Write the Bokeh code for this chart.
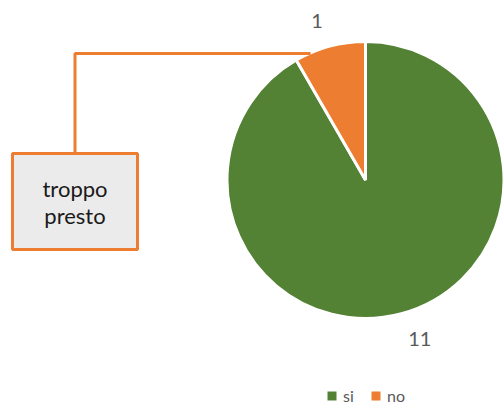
import numpy as np
from bokeh.plotting import figure
from bokeh.models import Range1d, ColumnDataSource, Legend, LegendItem
from bokeh.core.properties import value
from bokeh.embed import file_html
from bokeh.resources import INLINE

categories = ["si", "no"]
counts = [11, 1]
colors = ["#548235", "#ED7D31"]
callout_lines = ["troppo", "presto"]

W, H = 504, 405
p = figure(width=W, height=H, x_range=Range1d(0, 504), y_range=Range1d(0, 405),
           output_backend="svg", toolbar_location=None, min_border=0)
p.axis.visible = False
p.grid.visible = False
p.outline_line_color = None
p.background_fill_color = "white"

cx, cy, r = 365, 405 - 179.5, 138.5
vals = np.array(counts, dtype=float)
frac = vals / vals.sum()
cum = np.concatenate([[0], np.cumsum(frac)[:-1]])
start = np.pi / 2 - cum * 2 * np.pi
end = start - frac * 2 * np.pi
mid = (start + end) / 2

src = ColumnDataSource(dict(cat=categories, val=counts, color=colors,
                            start=start, end=end,
                            lx=cx + 1.19 * r * np.cos(mid),
                            ly=cy + 1.19 * r * np.sin(mid),
                            align=["right" if c < 0 else "left" for c in np.cos(mid)],
                            lbl=[str(c) for c in counts]))

w = p.wedge(x=cx, y=cy, radius=r, start_angle="start", end_angle="end",
            direction="clock", fill_color="color", line_color="white",
            line_width=3, source=src)

p.text(x="lx", y="ly", text="lbl", source=src, text_align="align",
       text_baseline="middle", text_font=value("Lato"), text_font_size="20px",
       text_color="#595959")

# callout leader and box
p.line(x=[74.5, 74.5, 310], y=[405 - 153, 405 - 53, 405 - 53],
       line_color="#ED7D31", line_width=3)
p.rect(x=74.5, y=405 - 201, width=125, height=96, fill_color="#EBEBEB",
       line_color="#ED7D31", line_width=3)
p.text(x=[74.5, 74.5], y=[405 - 188, 405 - 215], text=callout_lines,
       text_align="center", text_baseline="middle", text_font=value("Lato"),
       text_font_size="22px", text_color="#1A1A1A")

legend = Legend(items=[LegendItem(label=c, renderers=[w], index=i)
                       for i, c in enumerate(categories)],
                orientation="horizontal", location=(324, 0),
                glyph_width=15, glyph_height=15, label_standoff=4, spacing=5,
                padding=0, margin=0, border_line_color=None,
                background_fill_alpha=0, label_text_font="Lato",
                label_text_font_size="16px", label_text_color="#595959")
p.add_layout(legend, "center")

open("out.html", "w").write(file_html(p, INLINE))
